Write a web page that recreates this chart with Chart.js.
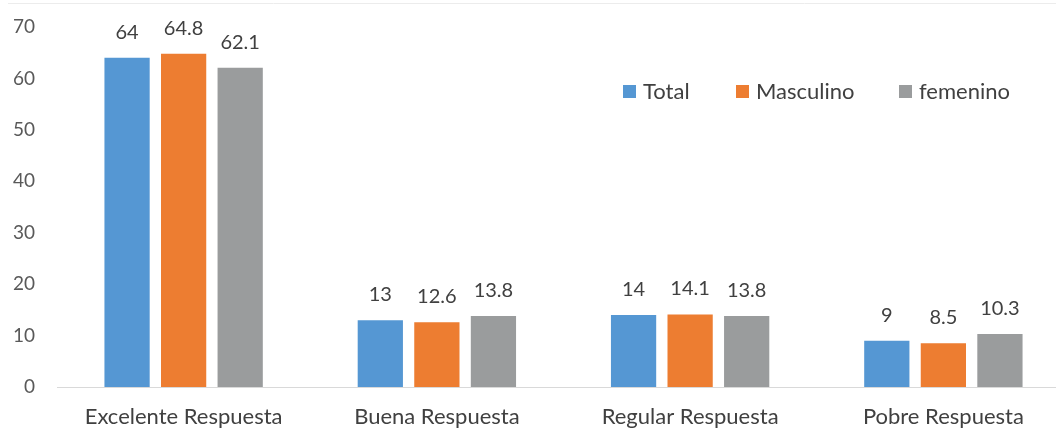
<!DOCTYPE html>
<html><head><meta charset="utf-8">
<script src="https://cdn.jsdelivr.net/npm/chart.js@4/dist/chart.umd.min.js"></script>
<style>html,body{margin:0;padding:0;background:#fff;overflow:hidden;width:1056px;height:430px}canvas{display:block}</style>
</head><body>
<canvas id="c" width="1070" height="430"></canvas>
<script>
const categories = ["Excelente Respuesta", "Buena Respuesta", "Regular Respuesta", "Pobre Respuesta"];
const seriesNames = ["Total", "Masculino", "femenino"];
const totalValues = [64, 13, 14, 9];
const masculinoValues = [64.8, 12.6, 14.1, 8.5];
const femeninoValues = [62.1, 13.8, 13.8, 10.3];
const yTicks = [0, 10, 20, 30, 40, 50, 60, 70];

const FONT = "Lato, 'Open Sans', sans-serif";
const colors = ["#5597D3", "#ED7D31", "#9A9C9D"];
const legendPos = [{x: 623}, {x: 736}, {x: 899}];

const topLine = {
  id: 'topLine',
  beforeDraw(chart) {
    const ctx = chart.ctx;
    ctx.save();
    ctx.strokeStyle = '#ececec';
    ctx.lineWidth = 1;
    ctx.beginPath();
    ctx.moveTo(8, 3.5); ctx.lineTo(1070, 3.5);
    ctx.stroke();
    ctx.restore();
  }
};

const labelsPlugin = {
  id: 'valLabels',
  afterDatasetsDraw(chart) {
    const ctx = chart.ctx;
    ctx.save();
    ctx.font = "20px " + FONT;
    ctx.fillStyle = '#404040';
    ctx.textAlign = 'center';
    ctx.textBaseline = 'alphabetic';
    chart.data.datasets.forEach((ds, i) => {
      chart.getDatasetMeta(i).data.forEach((bar, j) => {
        ctx.fillText(String(ds.data[j]), bar.x, bar.y - 19);
      });
    });
    ctx.restore();
  }
};

const legendPlugin = {
  id: 'customLegend',
  afterDraw(chart) {
    const ctx = chart.ctx;
    ctx.save();
    ctx.font = "22px " + FONT;
    ctx.textBaseline = 'middle';
    ctx.textAlign = 'left';
    chart.data.datasets.forEach((ds, i) => {
      const x = legendPos[i].x;
      ctx.fillStyle = ds.backgroundColor;
      ctx.fillRect(x, 85, 13, 13);
      ctx.fillStyle = '#404040';
      ctx.fillText(ds.label, x + 20, 92);
    });
    ctx.restore();
  }
};

new Chart(document.getElementById('c'), {
  type: 'bar',
  data: {
    labels: categories,
    datasets: [
      {label: seriesNames[0], data: totalValues, backgroundColor: colors[0]},
      {label: seriesNames[1], data: masculinoValues, backgroundColor: colors[1]},
      {label: seriesNames[2], data: femeninoValues, backgroundColor: colors[2]}
    ]
  },
  options: {
    responsive: false,
    animation: false,
    devicePixelRatio: 1,
    layout: {padding: {top: 27, left: 0, right: 0, bottom: 0}},
    datasets: {bar: {categoryPercentage: 0.67, barPercentage: 0.8}},
    plugins: {legend: {display: false}, tooltip: {enabled: false}},
    scales: {
      x: {
        afterFit(scale) { scale.height = 43; },
        grid: {display: false, drawTicks: false},
        border: {display: true, color: '#d9d9d9', width: 1},
        ticks: {font: {family: FONT, size: 22}, color: '#404040', padding: 17, maxRotation: 0}
      },
      y: {
        min: 0, max: 70,
        afterBuildTicks(scale) { scale.ticks = yTicks.map(v => ({value: v})); },
        afterFit(scale) { scale.width = 57; },
        grid: {display: false, drawTicks: true, tickLength: 17, color: 'transparent'},
        border: {display: false},
        ticks: {font: {family: FONT, size: 19}, color: '#595959', padding: 5}
      }
    }
  },
  plugins: [topLine, labelsPlugin, legendPlugin]
});
</script>
</body></html>
